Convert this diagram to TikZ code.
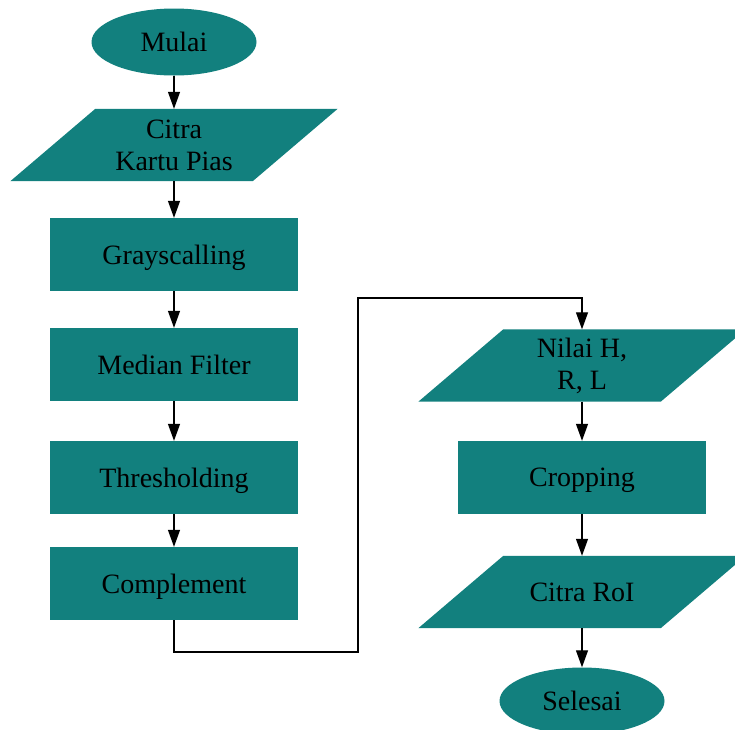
\documentclass[tikz,border=0pt]{standalone}
\usepackage{fontspec}
\setmainfont{Liberation Serif}
\usetikzlibrary{shapes.geometric,arrows.meta,backgrounds}
\definecolor{flowteal}{RGB}{18,128,126}
\begin{document}
\begin{tikzpicture}[x=1pt,y=-1pt,
  every node/.style={font=\fontsize{28}{32}\selectfont,align=center,inner sep=0pt},
  terminal/.style={ellipse,fill=flowteal,text depth=0pt,minimum width=165pt,minimum height=67pt},
  process/.style={rectangle,fill=flowteal,text depth=0pt,minimum width=248pt,minimum height=73pt},
  io/.style={rectangle,minimum width=242pt,minimum height=72pt},
  flow/.style={line width=1.2pt,-{Triangle[length=17pt,width=12pt]}}]
\useasboundingbox (0,0) rectangle (735,729);
% left column
\node[terminal] (mulai) at (174,42) {Mulai};
\node[io] (citra) at (174,145) {Citra\\Kartu Pias};
\node[process] (gray) at (174,254.5) {Grayscalling};
\node[process] (median) at (174,364.5) {Median Filter};
\node[process] (thresh) at (174,477.5) {Thresholding};
\node[process] (compl) at (174,583.5) {Complement};
% right column
\node[io] (nilai) at (582,365.5) {Nilai H,\\R, L};
\node[process] (crop) at (582,477.5) {Cropping};
\node[io] (roi) at (582,592) {Citra RoI};
\node[terminal] (selesai) at (582,701) {Selesai};

% parallelograms behind the data nodes
\begin{scope}[on background layer]
\foreach \n in {citra,nilai,roi}
  \fill[flowteal] ([xshift=-42.5pt]\n.south west) -- ([xshift=42.5pt]\n.north west)
    -- ([xshift=42.5pt]\n.north east) -- ([xshift=-42.5pt]\n.south east) -- cycle;
\end{scope}

\draw[flow] (mulai) -- (citra);
\draw[flow] (citra) -- (gray);
\draw[flow] (gray) -- (median);
\draw[flow] (median) -- (thresh);
\draw[flow] (thresh) -- (compl);
% jump to the second column
\draw[flow] (compl.south) -- (174,652) -- (358,652) -- (358,298) -- (582,298) -- (nilai.north);
\draw[flow] (nilai) -- (crop);
\draw[flow] (crop) -- (roi);
\draw[flow] (roi) -- (selesai);
\end{tikzpicture}
\end{document}
